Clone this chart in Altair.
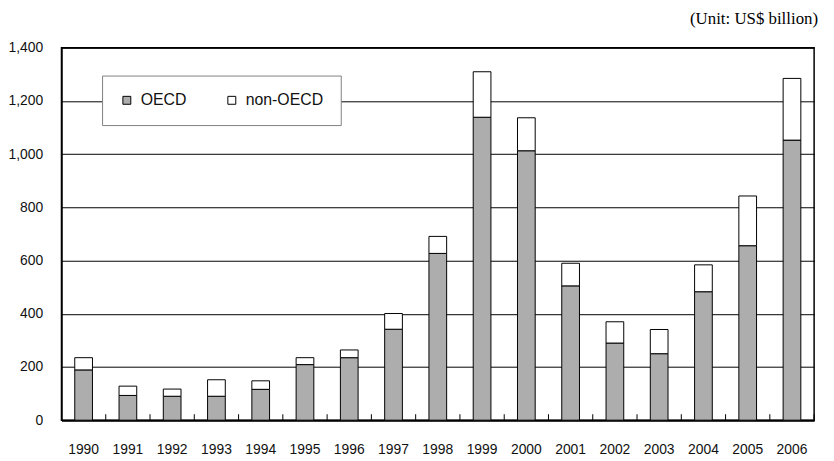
import altair as alt
import pandas as pd

years = ["1990", "1991", "1992", "1993", "1994", "1995", "1996", "1997", "1998",
         "1999", "2000", "2001", "2002", "2003", "2004", "2005", "2006"]
oecd = [189, 93, 90, 90, 116, 209, 235, 342, 627, 1139, 1013, 505, 290, 250, 483, 656, 1053]
non_oecd = [46, 35, 27, 62, 32, 26, 29, 59, 64, 171, 124, 85, 80, 91, 101, 187, 232]
series = ["OECD", "non-OECD"]
y_ticks = [0, 200, 400, 600, 800, 1000, 1200, 1400]

rows = []
for yr, o, n in zip(years, oecd, non_oecd):
    rows.append({"year": yr, "region": "OECD", "value": o, "ord": 0})
    rows.append({"year": yr, "region": "non-OECD", "value": n, "ord": 1})
df = pd.DataFrame(rows)

W, H = 760, 376
step = W / len(years)
FONT = "Liberation Sans"

x_enc = alt.X(
    "year:N", sort=years, title=None,
    scale=alt.Scale(paddingInner=0.6, paddingOuter=0.3),
    axis=alt.Axis(labelAngle=0, ticks=False, labelPadding=23, labelFont=FONT,
                  labelFontSize=14, labelColor="#111111", domainColor="black",
                  domainWidth=2, grid=False),
)

bars = alt.Chart(df).mark_bar(stroke="black", strokeWidth=1).encode(
    x=x_enc,
    y=alt.Y("value:Q", stack="zero", title=None,
            scale=alt.Scale(domain=[0, 1400], nice=False),
            axis=alt.Axis(values=y_ticks, format=",.0f", grid=True, gridColor="black",
                          gridWidth=1, ticks=False, labelPadding=19, labelFont=FONT,
                          labelFontSize=14, labelColor="#111111", domainColor="black",
                          domainWidth=1.5)),
    fill=alt.Fill("region:N",
                  scale=alt.Scale(domain=series, range=["#ADADAD", "#FFFFFF"]),
                  legend=alt.Legend(orient="none", legendX=41, legendY=28,
                                    direction="horizontal", title=None,
                                    fillColor="white", strokeColor="#808080",
                                    padding=17, symbolType="square", symbolSize=64,
                                    symbolStrokeColor="black", symbolStrokeWidth=1,
                                    labelFont=FONT, labelFontSize=16,
                                    labelColor="#111111", columnPadding=37,
                                    labelOffset=6)),
    order=alt.Order("ord:Q"),
)

ticks = alt.Chart(pd.DataFrame({"year": years})).mark_rule(
    color="black", strokeWidth=1, xOffset=step / 2
).encode(
    x=x_enc,
    y=alt.value(H),
    y2=alt.value(H - 6),
)

chart = alt.layer(bars, ticks).properties(
    width=W, height=H,
    autosize=alt.AutoSizeParams(type="none"),
    padding={"left": 54, "top": 38, "right": 12, "bottom": 39},
    title=alt.Title("(Unit: US$ billion)", anchor="end", font="Liberation Serif",
                    fontSize=17, fontWeight="normal", color="black", offset=13,
                    dx=4, frame="group"),
).configure_view(stroke="black", strokeWidth=1.5)

chart.save("out.html", embed_options={"renderer": "svg", "actions": False})
